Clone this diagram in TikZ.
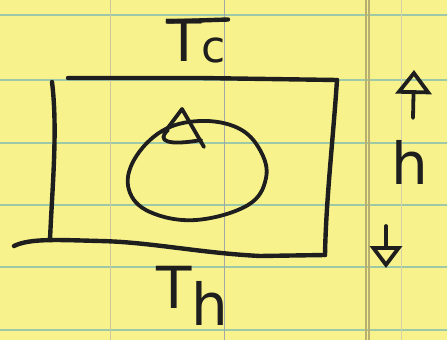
\documentclass[tikz,border=0pt]{standalone}
\usepackage{fontspec}
\setmainfont{DejaVu Sans}
\usetikzlibrary{arrows.meta}
\definecolor{paper}{HTML}{F8F28C}
\definecolor{rule}{HTML}{9DC9A6}
\definecolor{margin}{HTML}{B8B070}
\definecolor{ink}{HTML}{1E1E1E}
\begin{document}
\begin{tikzpicture}[x=1pt,y=-1pt,
  pen/.style={draw=ink,line width=4.4pt,line cap=round,line join=round},
  thinpen/.style={draw=ink,line width=3.8pt,line cap=round,line join=round},
  lbl/.style={text=ink,inner sep=0pt,font=\fontsize{58}{58}\selectfont},
  hlbl/.style={text=ink,inner sep=0pt,font=\fontsize{58}{58}\selectfont}]
\useasboundingbox (0,0) rectangle (447,340);
\fill[paper] (0,0) rectangle (447,340);
% ruled paper
\foreach \y in {15,80,143,205,267,330} \draw[rule,line width=1.2pt] (0,\y) -- (447,\y);
\draw[margin!70,line width=0.8pt] (110,0) -- (110,340);
\draw[gray!70,line width=0.7pt] (224,0) -- (224,340);
\draw[margin,line width=1.2pt] (366,0) -- (366,340);
\draw[margin,line width=1.2pt] (369,0) -- (369,340);
\draw[margin!60,line width=0.8pt] (401,0) -- (401,340);
% box
\coordinate (tl) at (68,78);
\coordinate (tr) at (337,80);
\coordinate (br) at (325,255);
\coordinate (bl) at (50,240);
\draw[pen] (tl) -- (200,78) -- (tr);
\draw[pen] (tr) .. controls (333,140) and (326,200) .. (br);
\draw[pen] (52,82) .. controls (58,130) and (52,190) .. (bl);
\draw[pen] (14,246) .. controls (30,238) and (60,240) .. (100,241)
  .. controls (150,242) and (200,253) .. (260,256) -- (br);
% egg
\draw[thinpen] plot[smooth cycle,tension=0.65] coordinates
  {(200,121) (238,128) (260,150) (266,178) (248,205) (196,220) (150,212) (129,190) (134,160) (162,131)};
% rotation arrow on egg
\draw[thinpen] (164,133) -- (182,109) -- (204,147);
\draw[thinpen] (168,130) .. controls (156,141) and (168,146) .. (201,140);
% labels
\node[lbl,anchor=north west] (tc) at (166,19) {T\raisebox{-0.02em}{\fontsize{44}{44}\selectfont c}};
\draw[pen] (tc.north west) ++(2,2.5) -- ++(60,-2);
\node[lbl,anchor=north west] (th) at (156,266) {T\raisebox{-0.3em}{h}};
% h dimension
\node[hlbl] (h) at (410,162) {h};
\coordinate (htop) at (414,70);
\coordinate (hbot) at (386,268);
\draw[thinpen,-{Triangle[open,length=24pt,width=36pt,line width=3.8pt]}] (413,118) -- (htop);
\draw[thinpen,-{Triangle[open,length=22pt,width=32pt,line width=3.8pt]}] (386,226) -- (hbot);
\end{tikzpicture}
\end{document}
